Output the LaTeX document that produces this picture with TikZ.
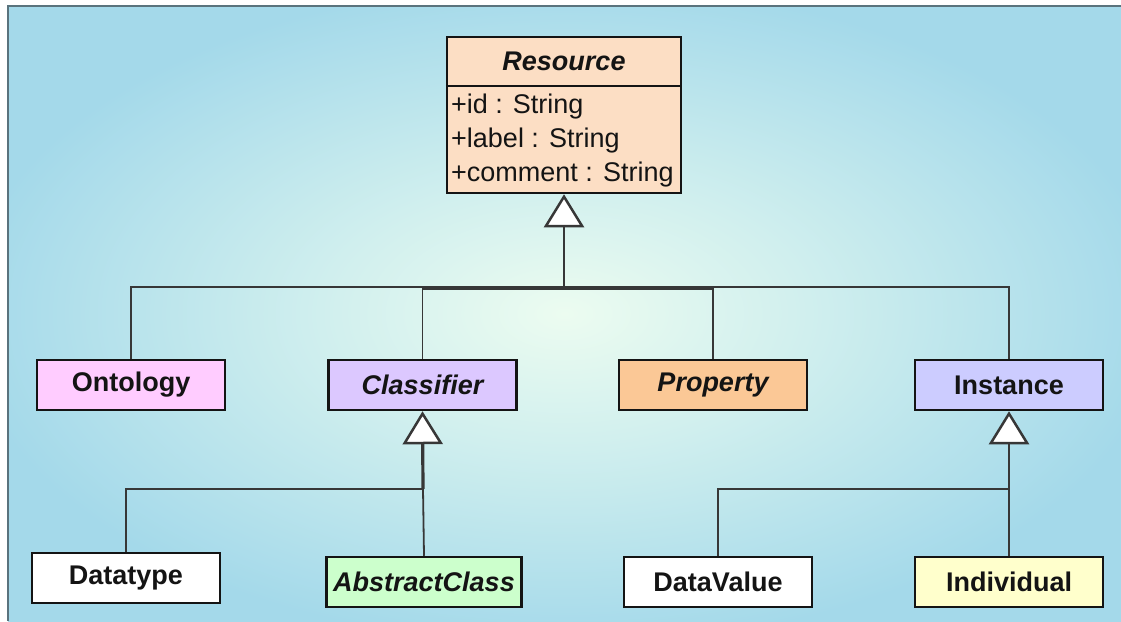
\documentclass[tikz,border=0pt]{standalone}
\usepackage{fontspec}
\setmainfont{Liberation Sans}
\usetikzlibrary{arrows.meta}
\definecolor{bgin}{RGB}{236,252,240}
\definecolor{bgmid}{RGB}{208,239,238}
\definecolor{bgout}{RGB}{164,217,234}
\definecolor{frame}{RGB}{90,115,125}
\definecolor{resfill}{RGB}{252,222,196}
\definecolor{ontfill}{RGB}{255,204,255}
\definecolor{clsfill}{RGB}{220,200,255}
\definecolor{propfill}{RGB}{251,200,150}
\definecolor{instfill}{RGB}{204,204,255}
\definecolor{acfill}{RGB}{204,255,204}
\definecolor{indfill}{RGB}{255,255,204}
\definecolor{ink}{RGB}{20,20,20}
\pgfdeclareradialshading{bgshade}{\pgfpoint{0bp}{0bp}}{%
  color(0bp)=(bgin); color(11bp)=(bgmid); color(27bp)=(bgout); color(50bp)=(bgout)}
\tikzset{
  umlbox/.style={draw=ink, line width=2.5pt, minimum width=188pt, minimum height=50pt,
    inner sep=0pt, font=\fontsize{27}{30}\selectfont\bfseries, text=ink},
  abst/.style={font=\fontsize{27}{30}\selectfont\bfseries\itshape},
  attr/.style={anchor=base west, inner sep=0pt, font=\fontsize{27}{30}\selectfont, text=ink},
  conn/.style={draw=ink!85, line width=1.8pt},
  gen/.style={conn, -{Triangle[open, length=33pt, width=40pt, fill=white, line width=2.5pt]}}
}
\begin{document}
\begin{tikzpicture}[x=1pt,y=-1pt]
\useasboundingbox (0,0) rectangle (1121,621);
% background
\shade[shading=bgshade] (8,6) rectangle (1121,621);
\draw[frame, line width=2pt] (8,621) -- (8,6) -- (1121,6);

% Resource class
\node[draw=ink, line width=2.5pt, fill=resfill, minimum width=234pt, minimum height=156pt, inner sep=0pt] (res) at (564,115) {};
\draw[ink, line width=2.5pt] (res.west |- 0,86) -- (res.east |- 0,86);
\node[font=\fontsize{27}{30}\selectfont\bfseries\itshape, text=ink] (restitle) at (564,61) {Resource};
\node[attr] (a1) at (451,113) {+id : String};
\node[attr] (a2) at (451,147) {+label : String};
\node[attr] (a3) at (451,181) {+comment : String};

% middle row
\node[umlbox, fill=ontfill] (ont) at (131,385) {Ontology};
\node[umlbox, abst, fill=clsfill] (cls) at (422.5,385) {Classifier};
\node[umlbox, abst, fill=propfill] (prop) at (713,385) {Property};
\node[umlbox, fill=instfill] (inst) at (1009,385) {Instance};

% bottom row
\node[umlbox, fill=white] (dt) at (126,578) {Datatype};
\node[umlbox, abst, fill=acfill, minimum width=195pt] (ac) at (424,582) {AbstractClass};
\node[umlbox, fill=white] (dv) at (718,582) {DataValue};
\node[umlbox, fill=indfill] (ind) at (1009,582) {Individual};

% top generalization
\coordinate (topbus) at (564,287);
\coordinate (innerbus) at (713,289);
\draw[conn] (ont.north) |- (topbus) -| (inst.north);
\draw[conn] (cls.north) |- (innerbus) -- (prop.north);
\draw[gen] (topbus) -- (res.south);

% classifier generalization
\coordinate (cbus) at (423,489);
\draw[conn] (dt.north) |- (cbus) -- (ac.north);
\draw[gen, line width=3.2pt] (cbus) -- (cls.south);

% instance generalization
\coordinate (ibus) at (1009,489);
\draw[conn] (dv.north) |- (ibus) -- (ind.north);
\draw[gen] (ibus) -- (inst.south);
\end{tikzpicture}
\end{document}
